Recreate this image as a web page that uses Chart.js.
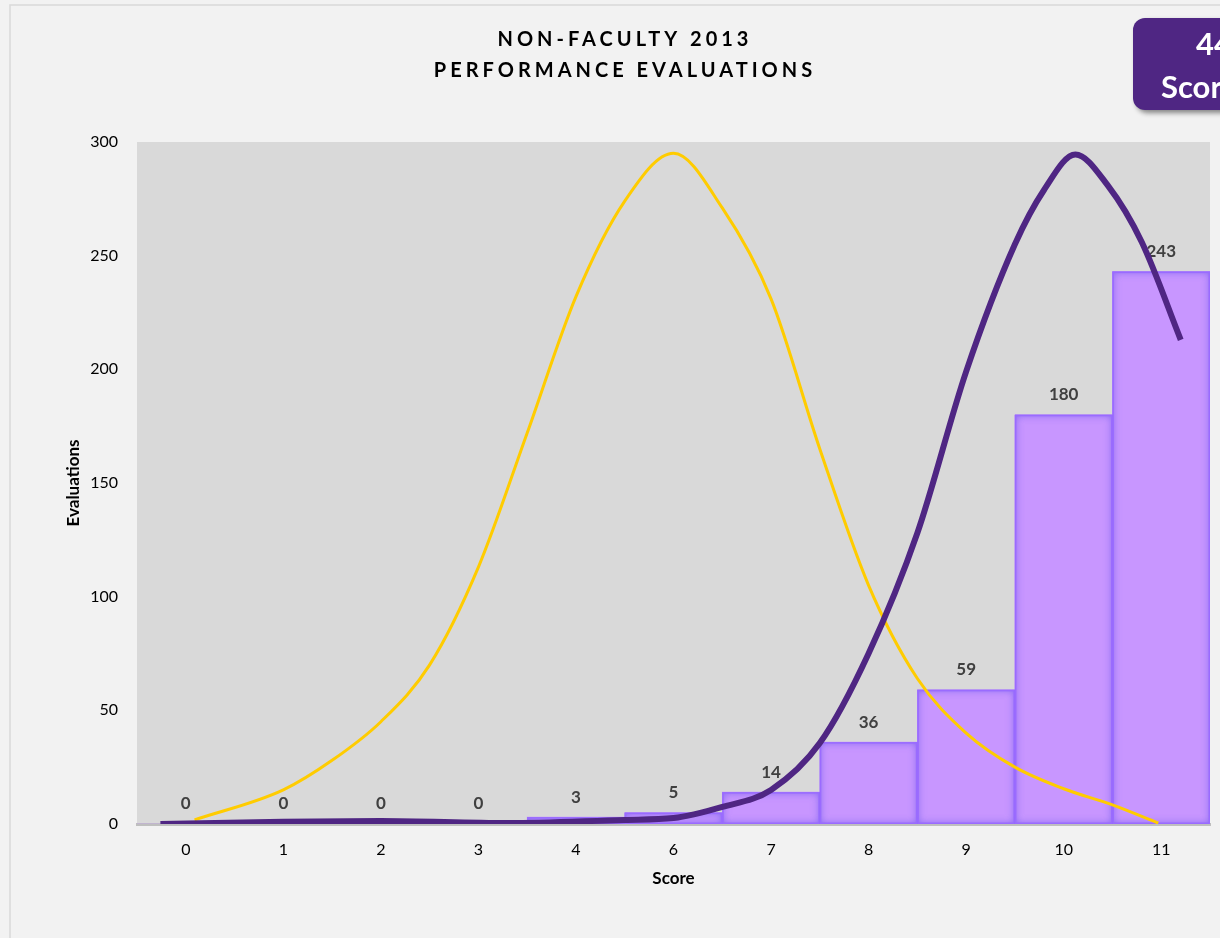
<!DOCTYPE html>
<html>
<head>
<meta charset="utf-8">
<script src="https://cdn.jsdelivr.net/npm/chart.js@4.4.1/dist/chart.umd.min.js"></script>
<style>
  html, body { margin: 0; padding: 0; background: #F2F2F2; }
  #wrap { width: 1220px; height: 938px; position: relative; }
</style>
</head>
<body>
<div id="wrap"><canvas id="chart"></canvas></div>
<script>
// Score categories (there is no score of 5 on this scale)
const scores = ['0', '1', '2', '3', '4', '6', '7', '8', '9', '10', '11'];
// Number of evaluations per score
const evaluations = [0, 0, 0, 0, 3, 5, 14, 36, 59, 180, 243];
// Reference bell curve: positions along the score axis (category index units) and heights
const bellPositions = [0.09, 1.0, 1.5, 2.0, 2.5, 3.0, 3.5, 4.0, 4.5, 5.0, 5.5, 6.0, 6.5, 7.0, 7.5, 8.0, 8.5, 9.0, 9.5, 9.97];
const bellValues    = [1.8, 15, 28, 45, 70, 113, 172, 232, 274, 295, 271, 231, 165, 105, 64, 40, 25, 15.5, 8.4, 0.4];
// Fitted distribution curve: positions along the score axis (category index units) and heights
const fitPositions = [-0.26, 1.0, 2.0, 3.3, 4.5, 5.0, 5.5, 6.0, 6.5, 7.0, 7.5, 8.0, 8.5, 8.8, 9.12, 9.45, 9.8, 10.2];
const fitValues    = [0, 1, 1.3, 0.4, 1.8, 2.6, 7.5, 15, 35.6, 75, 128, 199, 255, 279, 294.5, 281, 256, 213];
// Value axis
const yMin = 0, yMax = 300, yStep = 50;

const titleLines = ['NON-FACULTY 2013', 'PERFORMANCE EVALUATIONS'];
const badgeLines = ['44', 'Score'];

const FONT = 'Lato, "Open Sans", "Liberation Sans", sans-serif';

// Page background, frame line and grey plot area
const backgroundPlugin = {
  id: 'background',
  beforeDraw(chart) {
    const { ctx, width, height, chartArea: a } = chart;
    ctx.save();
    ctx.fillStyle = '#F2F2F2';
    ctx.fillRect(0, 0, width, height);
    ctx.strokeStyle = '#D9D9D9';
    ctx.lineWidth = 1.5;
    ctx.beginPath();
    ctx.moveTo(10, height + 5);
    ctx.lineTo(10, 5);
    ctx.lineTo(width + 5, 5);
    ctx.stroke();
    ctx.fillStyle = '#D9D9D9';
    ctx.fillRect(a.left, a.top, a.right - a.left, a.bottom - a.top);
    ctx.restore();
  }
};

// Soft inner glow on each bar, then the value labels above the bars
const barDecorPlugin = {
  id: 'barDecor',
  afterDatasetDraw(chart, args) {
    const meta = args.meta;
    if (meta.type !== 'bar') return;
    const { ctx } = chart;
    const values = chart.data.datasets[args.index].data;
    meta.data.forEach((bar, i) => {
      const left = bar.x - bar.width / 2;
      const top = bar.y;
      const h = bar.base - bar.y;
      if (h > 0.5) {
        ctx.save();
        ctx.beginPath();
        ctx.rect(left, top, bar.width, h);
        ctx.clip();
        ctx.beginPath();
        ctx.rect(left - 200, top - 200, bar.width + 400, h + 400);
        ctx.rect(left, top, bar.width, h);
        ctx.shadowColor = 'rgba(110, 90, 235, 0.85)';
        ctx.shadowBlur = 9;
        ctx.fillStyle = '#9A6BFF';
        ctx.fill('evenodd');
        ctx.restore();
        ctx.save();
        ctx.strokeStyle = '#9A6BFF';
        ctx.lineWidth = 1.5;
        ctx.strokeRect(left + 0.75, top + 0.75, bar.width - 1.5, h - 1.5);
        ctx.restore();
      }
      ctx.save();
      ctx.font = 'bold 17px ' + FONT;
      ctx.fillStyle = '#404040';
      ctx.textAlign = 'center';
      ctx.textBaseline = 'middle';
      ctx.fillText(String(values[i]), bar.x, bar.y - 20);
      ctx.restore();
    });
  }
};

// Spaced two-line title and the purple badge in the corner
const headerPlugin = {
  id: 'header',
  afterDraw(chart) {
    const { ctx } = chart;
    ctx.save();
    ctx.font = 'bold 20px ' + FONT;
    ctx.fillStyle = '#000000';
    ctx.textBaseline = 'middle';
    ctx.textAlign = 'left';
    const spacing = 4.0;
    ctx.letterSpacing = spacing + 'px';
    const cx = 623;
    [40, 71].forEach((y, i) => {
      const w = ctx.measureText(titleLines[i]).width - spacing;
      ctx.fillText(titleLines[i], cx - w / 2, y);
    });
    ctx.restore();

    ctx.save();
    ctx.shadowColor = 'rgba(0, 0, 0, 0.45)';
    ctx.shadowBlur = 5;
    ctx.shadowOffsetX = 3;
    ctx.shadowOffsetY = 3;
    ctx.fillStyle = '#4F2683';
    ctx.beginPath();
    ctx.roundRect(1133, 18, 140, 92, 12);
    ctx.fill();
    ctx.restore();

    ctx.save();
    ctx.fillStyle = '#FFFFFF';
    ctx.font = 'bold 31px ' + FONT;
    ctx.textBaseline = 'middle';
    ctx.textAlign = 'left';
    ctx.fillText(badgeLines[0], 1196, 45);
    ctx.fillText(badgeLines[1], 1161, 88);
    ctx.restore();
  }
};

const ctx = document.getElementById('chart').getContext('2d');
new Chart(ctx, {
  data: {
    labels: scores,
    datasets: [
      {
        type: 'line',
        label: 'Fitted distribution',
        xAxisID: 'xCurve',
        data: fitPositions.map((p, i) => ({ x: p, y: fitValues[i] })),
        borderColor: '#4F2683',
        borderWidth: 6,
        borderCapStyle: 'butt',
        pointRadius: 0,
        cubicInterpolationMode: 'monotone',
        fill: false,
        order: 0
      },
      {
        type: 'line',
        label: 'Normal curve',
        xAxisID: 'xCurve',
        data: bellPositions.map((p, i) => ({ x: p, y: bellValues[i] })),
        borderColor: '#FFCC00',
        borderWidth: 3,
        pointRadius: 0,
        cubicInterpolationMode: 'monotone',
        fill: false,
        order: 1
      },
      {
        type: 'bar',
        label: 'Evaluations',
        data: evaluations,
        backgroundColor: '#C896FF',
        borderWidth: 0,
        grouped: false,
        barPercentage: 1,
        categoryPercentage: 1,
        order: 2
      }
    ]
  },
  options: {
    responsive: true,
    maintainAspectRatio: false,
    animation: false,
    layout: { padding: { left: 10, right: 10, top: 142, bottom: 10 } },
    plugins: {
      legend: { display: false },
      title: { display: false },
      tooltip: { enabled: false }
    },
    scales: {
      x: {
        type: 'category',
        offset: true,
        grid: { display: false, drawTicks: false },
        border: { display: true, color: '#BFBFBF', width: 3 },
        ticks: { color: '#000000', font: { family: FONT, size: 16 }, padding: 16 },
        title: {
          display: true, text: 'Score', color: '#000000',
          font: { family: FONT, size: 17, weight: 'bold' },
          padding: { top: 0, bottom: 39 }
        },
        afterFit(scale) { scale.height = 104; }
      },
      xCurve: {
        type: 'linear',
        display: false,
        min: -0.5,
        max: 10.5
      },
      y: {
        min: yMin,
        max: yMax,
        grid: { display: false, drawTicks: false },
        border: { display: false },
        ticks: { stepSize: yStep, color: '#000000', font: { family: FONT, size: 16 }, padding: 19 },
        title: {
          display: true, text: 'Evaluations', color: '#000000',
          font: { family: FONT, size: 17, weight: 'bold' },
          padding: { top: 53, bottom: 0 }
        },
        afterFit(scale) { scale.width = 127; }
      }
    }
  },
  plugins: [backgroundPlugin, barDecorPlugin, headerPlugin]
});
</script>
</body>
</html>
